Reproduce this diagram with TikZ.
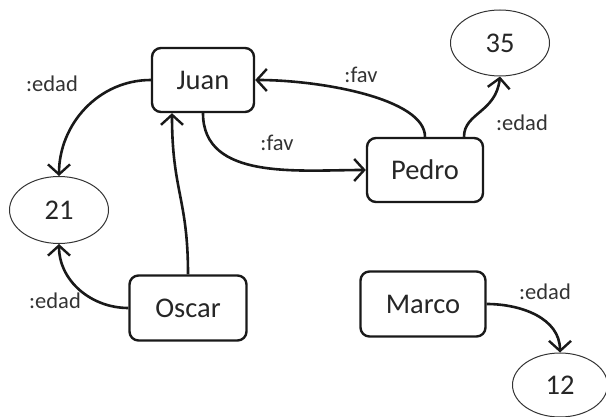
\documentclass[tikz,border=0pt]{standalone}
\usepackage{fontspec}
\setmainfont{Carlito}
\usetikzlibrary{arrows.meta,shapes.geometric}
\begin{document}
\begin{tikzpicture}[x=1pt,y=-1pt,
  entity/.style={draw=black!90,line width=2.4pt,rounded corners=9pt,inner sep=0pt,
    font=\fontsize{28.5}{32}\selectfont,text=black!85},
  literal/.style={draw=black!80,line width=1pt,ellipse,inner sep=0pt,
    font=\fontsize{28.5}{32}\selectfont,text=black!85},
  prop/.style={font=\fontsize{22.5}{26}\selectfont,text=black!80,inner sep=0pt},
  rel/.style={line width=2.6pt,black!90,-{Straight Barb[length=10pt,width=22pt,line width=2.4pt]}}]
\useasboundingbox (0,0) rectangle (606,417);

% resources
\node[entity,minimum width=102pt,minimum height=64pt] (juan)  at (203,80)  {Juan};
\node[entity,minimum width=116pt,minimum height=64pt] (pedro) at (425,170) {Pedro};
\node[entity,minimum width=117pt,minimum height=65pt] (oscar) at (188,308) {Oscar};
\node[entity,minimum width=125pt,minimum height=65pt] (marco) at (423,304) {Marco};

% literal values
\node[literal,minimum width=99pt,minimum height=66pt] (v35) at (500,43)  {35};
\node[literal,minimum width=99pt,minimum height=67pt] (v21) at (59,210)  {21};
\node[literal,minimum width=95pt,minimum height=64pt] (v12) at (560,385) {12};

% property labels
\node[prop] (l1) at (52,84)   {:edad};
\node[prop] (l2) at (361,75)  {:fav};
\node[prop] (l3) at (277,143) {:fav};
\node[prop] (l4) at (522,123) {:edad};
\node[prop] (l5) at (55,301)  {:edad};
\node[prop] (l6) at (545,292) {:edad};

% relations
\draw[rel] (juan.west) to[out=180,in=90] (v21.north);
\draw[rel] (juan.south) to[out=-90,in=180] (pedro.west);
\draw[rel] (pedro.north) .. controls ([yshift=38pt]pedro.north) and ([xshift=66pt]juan.east) .. (juan.east);
\draw[rel] ([xshift=39pt]pedro.north) .. controls ([xshift=39pt,yshift=24pt]pedro.north) and ([xshift=-4pt,yshift=-36pt]v35.south) .. (v35.south);
\draw[rel] (oscar.north) .. controls ([yshift=76pt]oscar.north) and ([xshift=-31pt,yshift=-78pt]juan.south) .. ([xshift=-31pt]juan.south);
\draw[rel] (oscar.west) to[out=180,in=-90] (v21.south);
\draw[rel] (marco.east) to[out=0,in=90] (v12.north);
\end{tikzpicture}
\end{document}
